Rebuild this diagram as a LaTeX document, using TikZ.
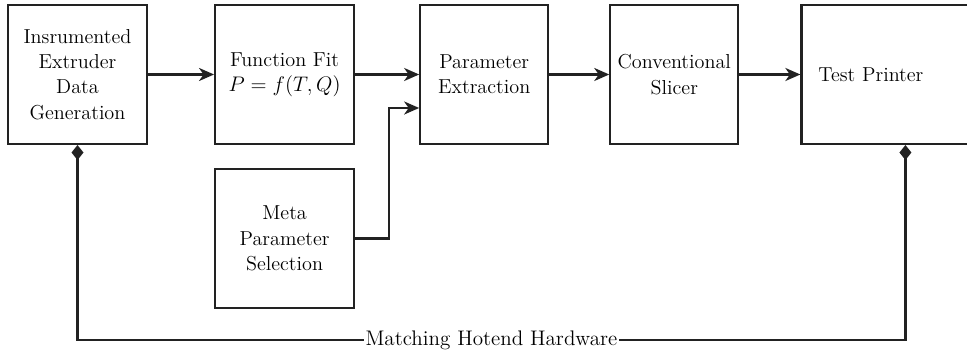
\documentclass[tikz,border=0pt]{standalone}
\usepackage{xcolor}
\definecolor{cLine}{HTML}{222222}
\usepackage{tikz}
\usetikzlibrary{positioning,arrows.meta}
\tikzset{
  node-box/.style={draw=cLine,line width=1.2pt,minimum height=2.78cm,
    minimum width=2.78cm,align=center,inner sep=2pt,
    font=\fontsize{11.5}{14.4}\selectfont},
  node-narrow/.style={minimum width=2.56cm},
  arrow/.style={-{Stealth[length=3mm,width=2.6mm,inset=0.9mm]},line width=1.3pt,draw=cLine},
  arrow-link/.style={{Diamond[length=3mm,width=2.4mm]}-{Diamond[length=3mm,width=2.4mm]},
    line width=1.3pt,draw=cLine},
}

\begin{document}
\begin{tikzpicture}[node distance=1.28cm and 1.28cm]
  \clip (0,0) rectangle (19.34,7.02);
  \node[node-box] (extruder) at (1.55,5.53) {Insrumented\\Extruder\\Data\\Generation};
  \node[node-box,right=1.32cm of extruder] (fit) {Function Fit\\$P = f(T,Q)$};
  \node[node-box,node-narrow,right=of fit] (extract) {Parameter\\Extraction};
  \node[node-box,node-narrow,right=1.20cm of extract] (slicer) {Conventional\\Slicer};
  % printer box runs past the right edge, text sits near its left side
  \node[node-box,right=1.22cm of slicer,minimum width=4.16cm,text width=3.48cm,
    align=left,inner xsep=0pt] (printer) {Test Printer};
  \node[node-box,below=0.46cm of fit] (meta) {Meta\\Parameter\\Selection};
  \coordinate (extract-in) at ([yshift=-0.67cm]extract.west);
  \draw[arrow] (extruder) -- (fit);
  \draw[arrow] (fit) -- (extract);
  \draw[arrow] (meta.east) -- ++(0.68,0) |- (extract-in);
  \draw[arrow] (extract) -- (slicer);
  \draw[arrow] (slicer) -- (printer);
  \draw[arrow-link] (extruder.south) -- ++(0,-3.9) -| (printer.south)
    node[pos=0.25,fill=white,inner xsep=1pt,inner ysep=1pt,
      font=\fontsize{12}{14.2}\selectfont] (hardware) {Matching Hotend Hardware};
\end{tikzpicture}
\end{document}
